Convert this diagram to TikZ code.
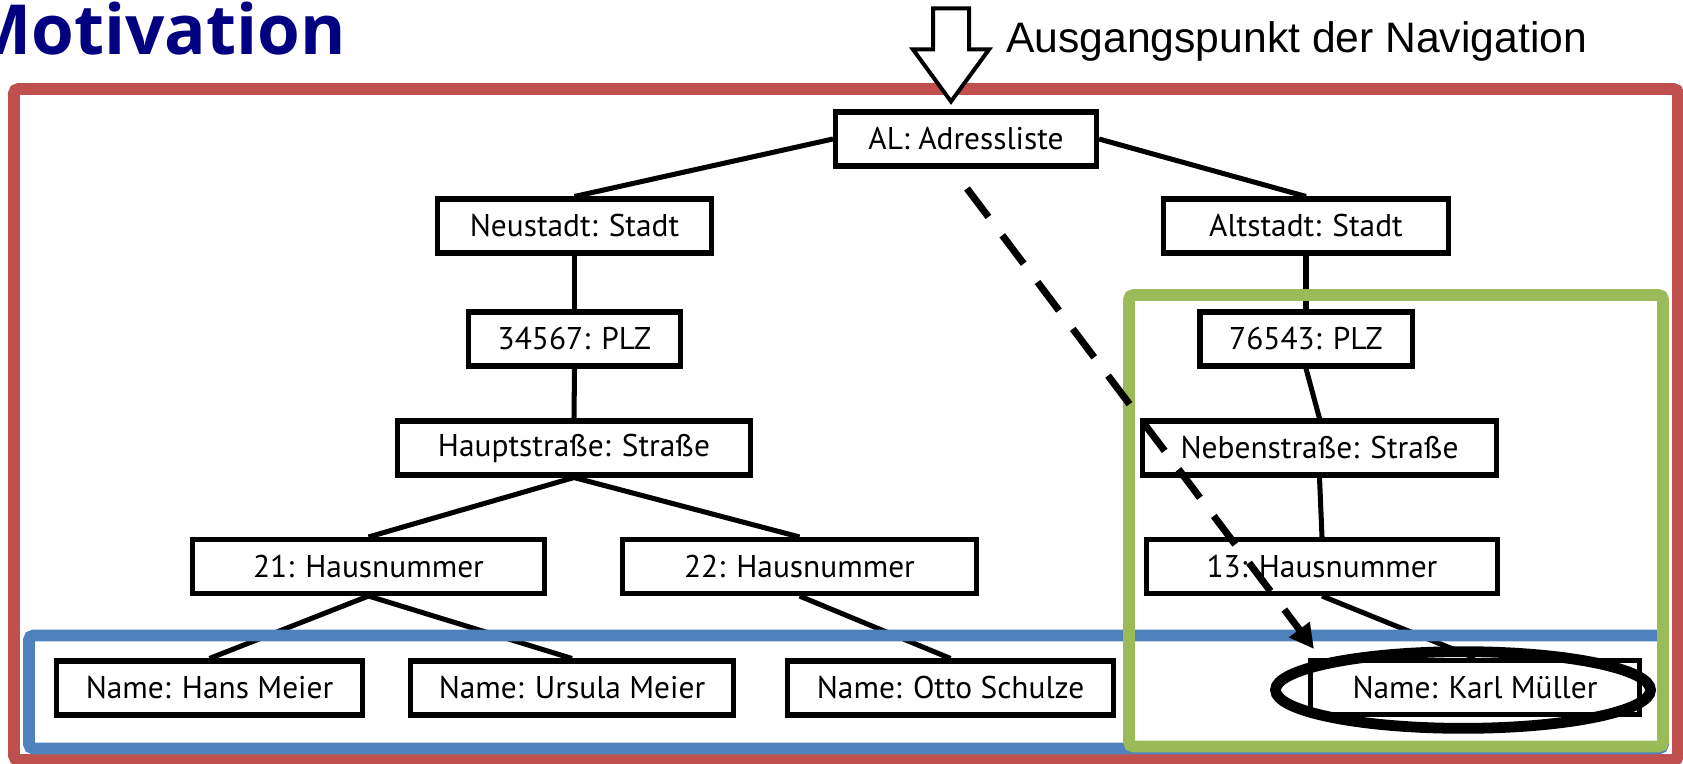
\documentclass[tikz,border=0pt]{standalone}
\usepackage{fontspec}
\setmainfont{PT Sans}
\newfontfamily\titlefont{Open Sans}
\newfontfamily\notefont{Liberation Sans}
\usetikzlibrary{arrows.meta,calc,shapes.geometric}
\definecolor{titleblue}{RGB}{0,0,128}
\definecolor{framered}{RGB}{192,80,77}
\definecolor{framegreen}{RGB}{155,187,89}
\definecolor{frameblue}{RGB}{79,129,189}

\begin{document}
\begin{tikzpicture}[x=0.03cm, y=-0.03cm,
  obj/.style={draw, line width=4.3pt, fill=white, minimum height=1.62cm,
    inner sep=0pt, font=\fontsize{26.8}{30}\selectfont},
  link/.style={line width=4.3pt},
  frame/.style={line width=10.2pt, rounded corners=4pt},
]
\useasboundingbox (0,0) rectangle (1683,764);

% outer frame
\draw[frame, framered] (14,89) rectangle (1678,760);

% object tree
\node[obj, minimum width=7.83cm]  (al)   at (966,139)    {AL: Adressliste};
\node[obj, minimum width=8.22cm]  (neu)  at (574.5,226)  {Neustadt: Stadt};
\node[obj, minimum width=8.55cm]  (alt)  at (1306,226)   {Altstadt: Stadt};
\node[obj, minimum width=6.36cm]  (plzA) at (574.5,339)  {34567: PLZ};
\node[obj, minimum width=6.36cm]  (plzB) at (1306,339)   {76543: PLZ};
\node[obj, minimum width=10.59cm] (hs)   at (574,448)    {Hauptstraße: Straße};
\node[obj, minimum width=10.62cm] (ns)   at (1319.5,448) {Nebenstraße: Straße};
\node[obj, minimum width=10.56cm] (h21)  at (368.5,566.5) {21: Hausnummer};
\node[obj, minimum width=10.62cm] (h22)  at (799.5,566.5) {22: Hausnummer};
\node[obj, minimum width=10.53cm] (h13)  at (1322,566.5) {13: Hausnummer};
\node[obj, minimum width=9.18cm]  (hans) at (209.5,688)  {Name: Hans Meier};
\node[obj, minimum width=9.69cm]  (urs)  at (572,688)    {Name: Ursula Meier};
\node[obj, minimum width=9.78cm]  (otto) at (950.5,688)  {Name: Otto Schulze};
\node[obj, minimum width=9.87cm]  (karl) at (1475,687.5) {Name: Karl Müller};

% tree edges
\draw[link] (al.west) -- (neu.north);
\draw[link] (al.east) -- (alt.north);
\draw[link] (neu.south) -- (plzA.north);
\draw[link] (plzA.south) -- (hs.north);
\draw[link] (hs.south) -- (h21.north);
\draw[link] (hs.south) -- (h22.north);
\draw[link] (alt.south) -- (plzB.north);
\draw[link] (plzB.south) -- (ns.north);
\draw[link] (ns.south) -- (h13.north);
\draw[link] (h21.south) -- (hans.north);
\draw[link] (h21.south) -- (urs.north);
\draw[link] (h22.south) -- (otto.north);
\draw[link] (h13.south) -- (karl.north);

% groupings
\draw[frame, frameblue] (29,635.5) rectangle (1663,748.5);
\draw[frame, framegreen] (1129,295) rectangle (1663,746.5);

% highlighted result
\node[draw, ellipse, line width=9.2pt, minimum width=11.25cm, minimum height=2.3cm,
      inner sep=0pt] (ring) at ($(karl.center)+(-12,2.5)$) {};

% direct navigation path
\coordinate (navstart) at ($(al.south)+(1,20)$);
\coordinate (navend) at ($(karl.north west)+(6,-9)$);
\draw[line width=6pt, dash pattern=on 30.4pt off 19.6pt,
      -{Triangle[length=20.8pt,width=20.8pt]}] (navstart) -- (navend);

% entry point marker
\coordinate (navtip) at ($(al.north)+(-15,-8)$);
\draw[line width=3.4pt, fill=white, line join=miter]
  (navtip) -- ++(-38,-52) -- ++(20,0) -- ++(0,-41) -- ++(36,0)
  -- ++(0,41) -- ++(20,0) -- cycle;
\node[anchor=base west, inner sep=0pt, font=\notefont\fontsize{36.4}{40}\selectfont]
  (navlabel) at (1006,53) {Ausgangspunkt der Navigation};

% heading
\node[anchor=base east, inner sep=0pt, text=titleblue,
      font=\titlefont\bfseries\fontsize{59}{62}\selectfont] (title) at (346,55) {Motivation};
\end{tikzpicture}
\end{document}
